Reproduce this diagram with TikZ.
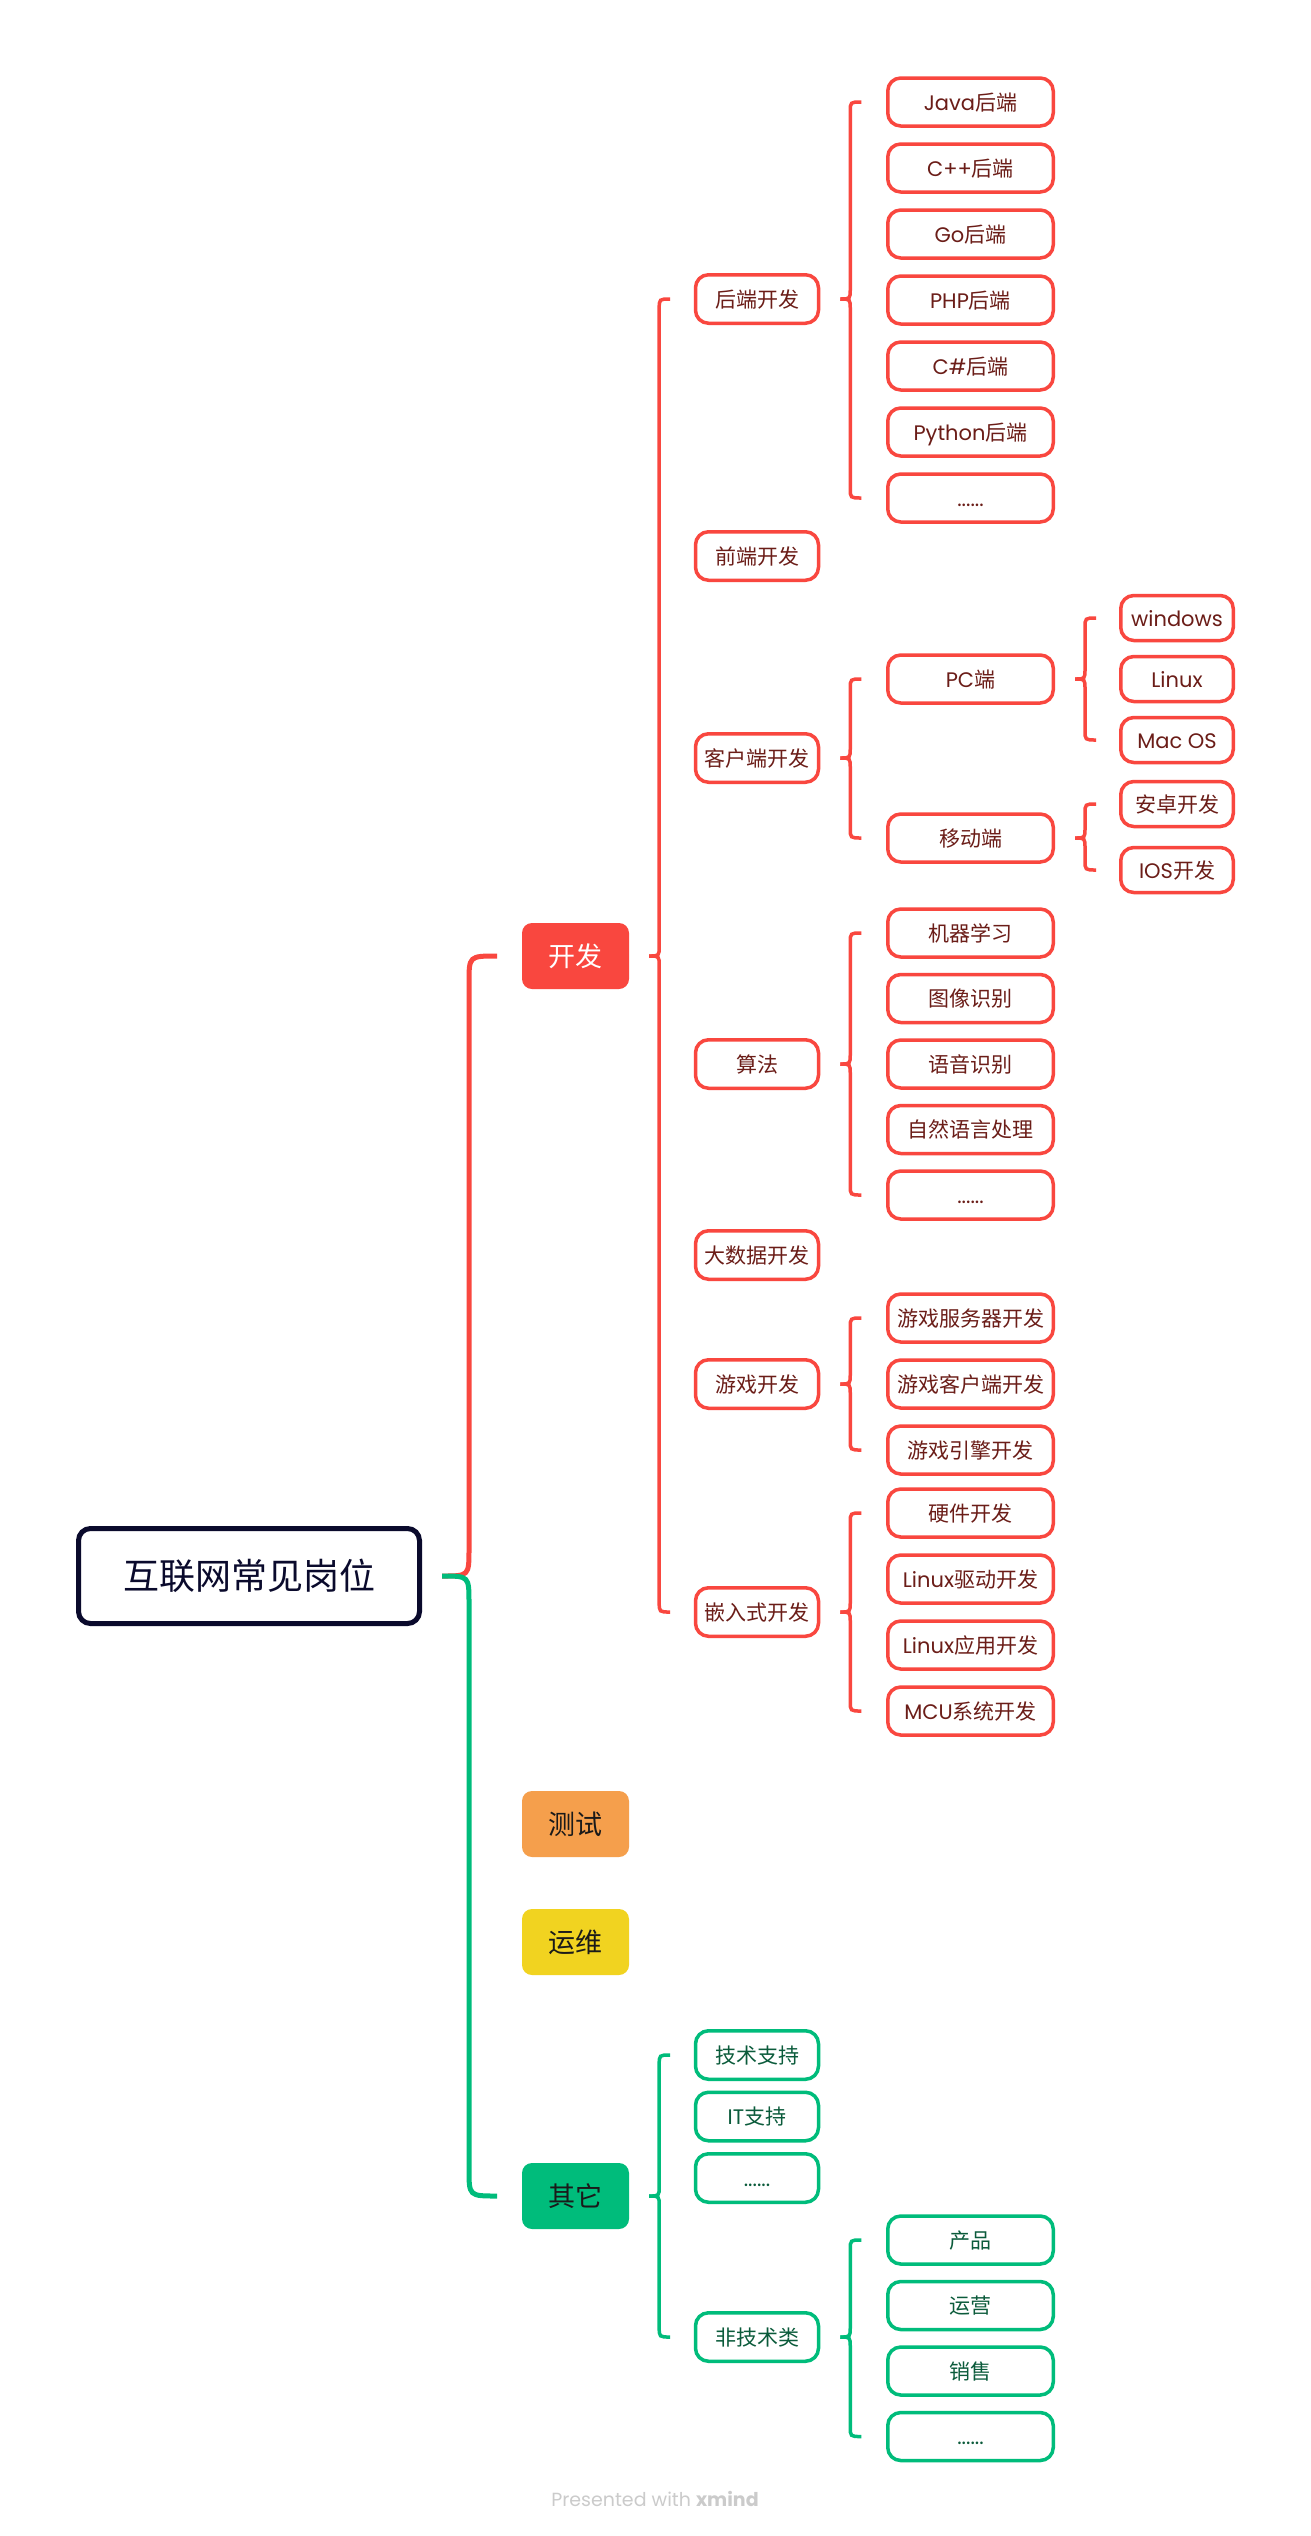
\documentclass[tikz,border=0pt]{standalone}
\usepackage{fontspec}
\setmainfont{Noto Sans CJK SC}
\newfontfamily\lat{Poppins}
\usetikzlibrary{calc}
\definecolor{cRed}{HTML}{F9473F}
\definecolor{tRed}{HTML}{6B1D18}
\definecolor{cGrn}{HTML}{00BC7B}
\definecolor{tGrn}{HTML}{0B5B3B}
\definecolor{cOrg}{HTML}{F59F4C}
\definecolor{cYel}{HTML}{F1D320}
\definecolor{cNavy}{HTML}{0A0A2C}
\definecolor{inkK}{HTML}{1A1A1A}
\definecolor{cFoot}{HTML}{CBCBCB}

\tikzset{
  card/.style={rounded corners=13pt, inner sep=0pt, line width=3.5pt, fill=white,
    font=\fontsize{21}{25}\selectfont, text height=18pt, text depth=2pt},
  lvtwo/.style={card, minimum width=123pt, minimum height=48.5pt},
  lvthree/.style={card, minimum width=165.5pt, minimum height=48pt},
  lvfour/.style={card, minimum width=112.5pt, minimum height=45pt},
  onred/.style={draw=cRed, text=tRed},
  ongrn/.style={draw=cGrn, text=tGrn},
  topic/.style={rounded corners=10pt, inner sep=0pt, minimum width=107pt, minimum height=66pt,
    font=\fontsize{27}{32}\selectfont, text height=23pt, text depth=3pt, text=inkK},
  root/.style={draw=cNavy, line width=5pt, rounded corners=12pt, fill=white, inner sep=0pt,
    minimum width=341pt, minimum height=95pt, font=\fontsize{36}{42}\selectfont,
    text height=31pt, text depth=4pt, text=cNavy},
  brace/.style={line width=3.5pt}
}

% brace: parent, first child, last child, upper arm, lower arm, bend
\newcommand{\xbrace}[6]{%
  \draw[brace,#4] let \p1=(#1.east), \p2=(#2.west) in
    (\x1+20,\y1) .. controls (\x1+20+#6,\y1) .. (\x1+20+#6,\y1+#6)
    -- (\x1+20+#6,\y2-#6) .. controls (\x1+20+#6,\y2) .. (\x1+21+2*#6,\y2);
  \draw[brace,#5] let \p1=(#1.east), \p3=(#3.west) in
    (\x1+20,\y1) .. controls (\x1+20+#6,\y1) .. (\x1+20+#6,\y1-#6)
    -- (\x1+20+#6,\y3+#6) .. controls (\x1+20+#6,\y3) .. (\x1+21+2*#6,\y3);
}

\begin{document}
\begin{tikzpicture}[x=1pt, y=-1pt]
  \fill[white] (0,0) rectangle (1311,2536);
  \useasboundingbox (0,0) rectangle (1311,2536);

  \node[root] (root) at (249,1576) {互联网常见岗位};

  % main topics
  \node[topic, fill=cRed, text=white] (dev) at (575.5,956) {开发};
  \node[topic, fill=cOrg] (test) at (575.5,1824) {测试};
  \node[topic, fill=cYel] (ops) at (575.5,1942) {运维};
  \node[topic, fill=cGrn] (other) at (575.5,2196) {其它};

  % development
  \node[lvtwo, onred] (backend) at (757,299) {后端开发};
  \node[lvtwo, onred] (frontend) at (757,556) {前端开发};
  \node[lvtwo, onred] (client) at (757,758) {客户端开发};
  \node[lvtwo, onred] (algo) at (757,1064) {算法};
  \node[lvtwo, onred] (bigdata) at (757,1255) {大数据开发};
  \node[lvtwo, onred] (game) at (757,1384) {游戏开发};
  \node[lvtwo, onred] (embed) at (757,1612) {嵌入式开发};

  \foreach \t [count=\i] in {{{\lat Java}后端}, {{\lat C++}后端}, {{\lat Go}后端},
      {{\lat PHP}后端}, {{\lat C\#}后端}, {{\lat Python}后端}, {{\lat ......}}}
    \node[lvthree, onred] (be\i) at (970.5,{102+66*(\i-1)}) {\t};

  \node[lvthree, onred] (pc) at (970.5,679) {{\lat PC}端};
  \node[lvthree, onred] (mobile) at (970.5,838) {移动端};
  \foreach \t [count=\i] in {windows, Linux, Mac OS}
    \node[lvfour, onred] (os\i) at (1177,{618+61*(\i-1)}) {\lat \t};
  \node[lvfour, onred] (mo1) at (1177,804) {安卓开发};
  \node[lvfour, onred] (mo2) at (1177,870) {{\lat IOS}开发};

  \foreach \t [count=\i] in {机器学习, 图像识别, 语音识别, 自然语言处理, {{\lat ......}}}
    \node[lvthree, onred] (al\i) at (970.5,{933+65.5*(\i-1)}) {\t};

  \foreach \t [count=\i] in {游戏服务器开发, 游戏客户端开发, 游戏引擎开发}
    \node[lvthree, onred] (gm\i) at (970.5,{1318+66*(\i-1)}) {\t};

  \foreach \t [count=\i] in {硬件开发, {{\lat Linux}驱动开发}, {{\lat Linux}应用开发}, {{\lat MCU}系统开发}}
    \node[lvthree, onred] (em\i) at (970.5,{1513+66*(\i-1)}) {\t};

  % others
  \foreach \t [count=\i] in {技术支持, {{\lat IT}支持}, {{\lat ......}}}
    \node[lvtwo, ongrn] (ot\i) at (757,{2055+61.5*(\i-1)}) {\t};
  \node[lvtwo, ongrn] (nontech) at (757,2337) {非技术类};
  \foreach \t [count=\i] in {产品, 运营, 销售, {{\lat ......}}}
    \node[lvthree, ongrn] (nt\i) at (970.5,{2240+65.5*(\i-1)}) {\t};

  % braces
  \xbrace{root}{dev}{other}{draw=cRed, line width=5pt}{draw=cGrn, line width=5pt}{27}
  \xbrace{dev}{backend}{embed}{draw=cRed}{draw=cRed}{10}
  \xbrace{backend}{be1}{be7}{draw=cRed}{draw=cRed}{10}
  \xbrace{client}{pc}{mobile}{draw=cRed}{draw=cRed}{10}
  \xbrace{pc}{os1}{os3}{draw=cRed}{draw=cRed}{10}
  \xbrace{mobile}{mo1}{mo2}{draw=cRed}{draw=cRed}{10}
  \xbrace{algo}{al1}{al5}{draw=cRed}{draw=cRed}{10}
  \xbrace{game}{gm1}{gm3}{draw=cRed}{draw=cRed}{10}
  \xbrace{embed}{em1}{em4}{draw=cRed}{draw=cRed}{10}
  \xbrace{other}{ot1}{nontech}{draw=cGrn}{draw=cGrn}{10}
  \xbrace{nontech}{nt1}{nt4}{draw=cGrn}{draw=cGrn}{10}

  \node[text=cFoot, font=\lat\fontsize{19}{22}\selectfont] (foot) at (655,2499)
    {Presented with \textbf{xmind}};
\end{tikzpicture}
\end{document}
